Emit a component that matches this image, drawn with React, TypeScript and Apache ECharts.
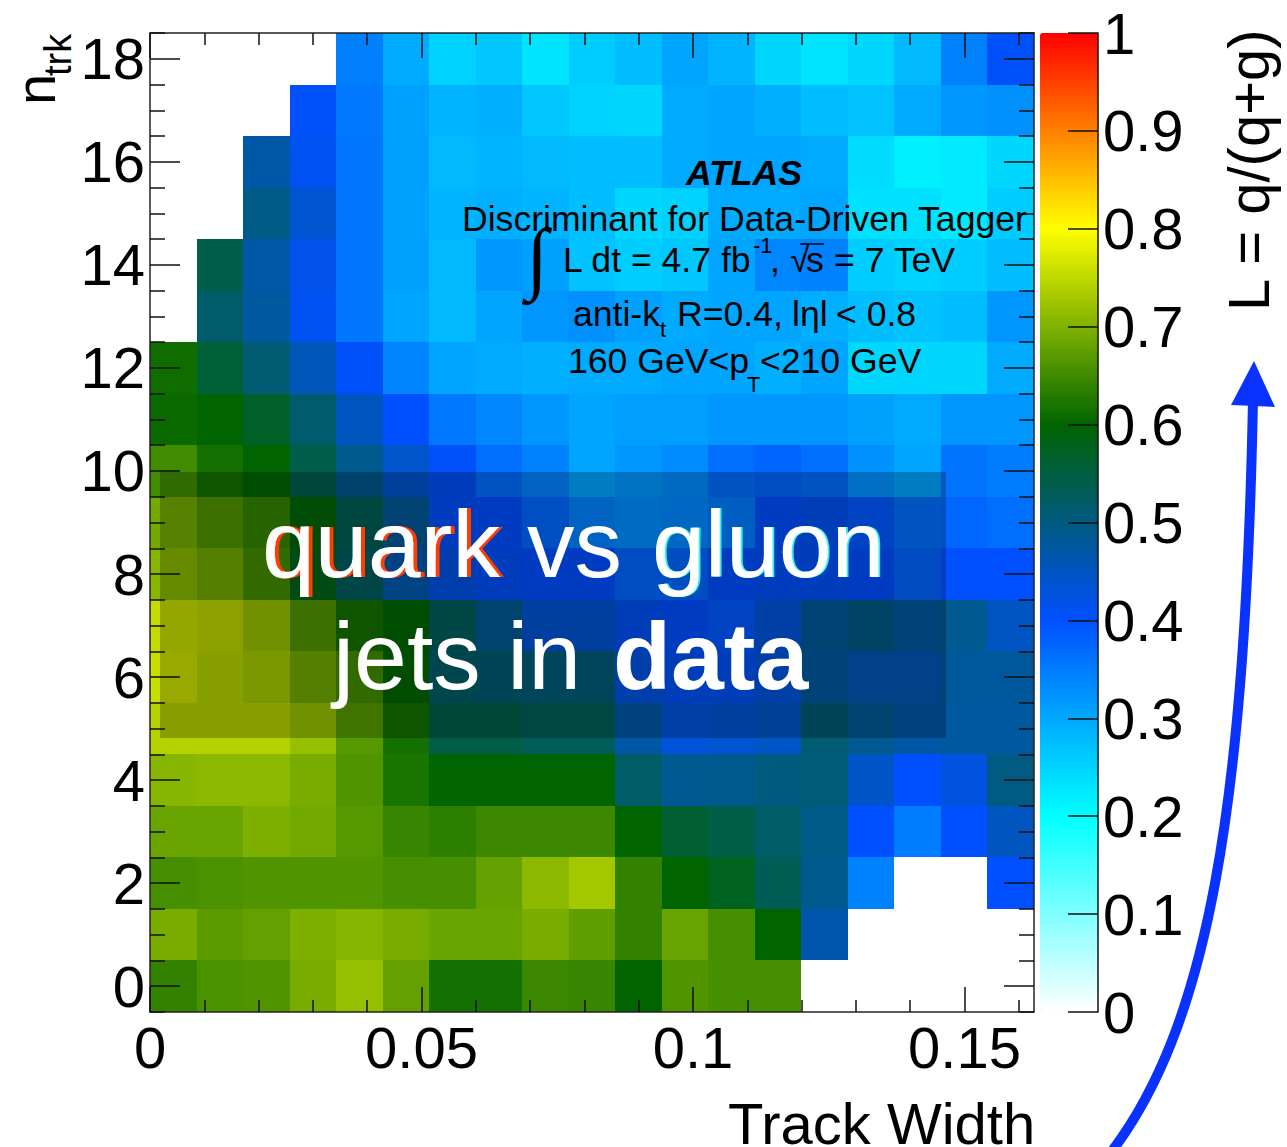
import React, { useEffect, useRef } from "react";
import * as echarts from "echarts";

const N: null = null;
const row00 = [.639,.659,.663,.694,.718,.678,.616,.616,.647,.643,.6,.663,.655,.655,N,N,N,N,N];
const row01 = [.694,.671,.678,.698,.706,.694,.682,.682,.694,.675,.639,.682,.655,.6,.463,N,N,N,N];
const row02 = [.655,.659,.663,.663,.663,.655,.655,.678,.71,.729,.639,.6,.576,.533,.49,.343,N,N,.4];
const row03 = [.682,.682,.698,.69,.667,.643,.635,.647,.647,.647,.6,.56,.545,.52,.494,.4,.349,.4,.451];
const row04 = [.706,.71,.71,.694,.663,.62,.6,.6,.6,.6,.52,.486,.49,.502,.506,.443,.4,.425,.498];
const row05 = [.741,.741,.741,.718,.667,.616,.545,.545,.53,.53,.47,.43,.435,.445,.51,.486,.47,.475,.475];
const row06 = [.757,.74,.729,.688,.652,.6,.518,.512,.507,.507,.424,.41,.41,.43,.476,.46,.46,.478,.478];
const row07 = [.753,.745,.718,.662,.616,.6,.528,.486,.435,.435,.41,.4,.39,.43,.482,.496,.476,.486,.447];
const row08 = [.706,.688,.652,.58,.528,.466,.42,.405,.4,.4,.375,.375,.4,.405,.405,.4,.38,.4,.4];
const row09 = [.69,.662,.641,.595,.533,.482,.404,.4,.371,.343,.33,.335,.35,.4,.41,.39,.365,.375,.366];
const row10 = [.651,.616,.6,.541,.49,.44,.405,.366,.343,.303,.32,.331,.366,.377,.366,.326,.303,.36,.349];
const row11 = [.608,.6,.569,.514,.451,.4,.354,.337,.32,.303,.31,.31,.32,.32,.32,.309,.297,.32,.32];
const row12 = [.612,.557,.51,.455,.404,.34,.303,.297,.291,.297,.297,.303,.303,.291,.303,.246,.246,.246,.297];
const row13 = [N,.518,.475,.41,.357,.303,.28,.303,.32,.326,.309,.297,.303,.303,.291,.274,.269,.274,.32];
const row14 = [N,.541,.47,.416,.357,.309,.28,.32,.309,.269,.257,.263,.303,.337,.343,.257,.251,.257,.274];
const row15 = [N,N,.495,.435,.357,.309,.286,.291,.286,.274,.246,.251,.297,.297,.303,.234,.234,.223,.257];
const row16 = [N,N,.47,.41,.357,.309,.28,.286,.28,.274,.274,.297,.303,.303,.297,.24,.217,.223,.246];
const row17 = [N,N,N,.405,.354,.309,.286,.291,.263,.251,.246,.297,.303,.291,.274,.269,.297,.32,.326];
const row18 = [N,N,N,N,.345,.297,.251,.263,.231,.257,.274,.303,.286,.246,.231,.246,.28,.343,.405];
const rows = [row00,row01,row02,row03,row04,row05,row06,row07,row08,row09,row10,row11,row12,row13,row14,row15,row16,row17,row18];

const xMax = 0.1628;
const xBins = 19;
const xMajor = [0, 0.05, 0.1, 0.15];
const xMinor = [.01,.02,.03,.04,.06,.07,.08,.09,.11,.12,.13,.14,.16];
const yMajor = [0,2,4,6,8,10,12,14,16,18];
const yMinor = [.5,1,1.5,2.5,3,3.5,4.5,5,5.5,6.5,7,7.5,8.5,9,9.5,10.5,11,11.5,12.5,13,13.5,14.5,15,15.5,16.5,17,17.5,18.5,-.5];
const paletteStops = ["#ffffff","#00ffff","#0050ff","#006400","#ffff00","#ff0000"];

const FONT = '"Liberation Sans", Helvetica, Arial, sans-serif';
const INK = "#000";
const TICK_FONT = 58;
const NOTE_FONT = 35.6;

function App() {
  const ref = useRef<HTMLDivElement>(null);
  useEffect(() => {
    const chart = echarts.init(ref.current!, undefined, { renderer: "svg" });
    const cells: number[][] = [];
    rows.forEach((r, ri) => r.forEach((v, ci) => { if (v !== null) cells.push([ci, ri, v as number]); }));
    const bw = xMax / xBins;
    const lbl = (t: string, x: number, base: number, size: number, extra: any = {}) => ({
      type: "text", x, y: base - size * 0.35, z: 30,
      style: { text: t, fill: INK, fontFamily: FONT, fontSize: size, textAlign: "left", textVerticalAlign: "middle", verticalAlign: "middle", ...extra },
    });
    const rot = (t: string, x: number, y: number, size: number, align: string) => ({
      type: "text", x: x - size * 0.35, y, rotation: Math.PI / 2, z: 30,
      style: { text: t, fill: INK, fontFamily: FONT, fontSize: size, textAlign: align, verticalAlign: "middle", textVerticalAlign: "middle" },
    });
    const big = (t: string, x: number, base: number, weight: string, shadow?: string, dx = 4) => ({
      type: "text", x, y: base - 95 * 0.35, z: 40,
      style: {
        text: t, fill: "#fff", fontFamily: FONT, fontSize: 95, fontWeight: weight, textAlign: "left", verticalAlign: "middle", textVerticalAlign: "middle",
        ...(shadow ? { textShadowColor: shadow, textShadowOffsetX: dx, textShadowOffsetY: 0, textShadowBlur: 0.1 } : {}),
      },
    });
    const hiddenX = (gridIndex: number, min = 0, max = 1) => ({ type: "value", gridIndex, min, max, show: false });
    const xTicks = (gridIndex: number, position: string, values: number[], length: number, labels: boolean, line: boolean) => ({
      type: "value", gridIndex, position, min: 0, max: xMax, z: 5,
      splitLine: { show: false },
      axisLine: { show: line, onZero: false, lineStyle: { color: "#222", width: 1.5 } },
      axisTick: { show: true, inside: true, length, customValues: values, lineStyle: { color: "#111", width: 1.5 } },
      axisLabel: { show: labels, customValues: labels ? values : undefined, margin: 6, fontFamily: FONT, fontSize: TICK_FONT, color: INK, formatter: (v: number) => String(v), hideOverlap: false, showMinLabel: true, showMaxLabel: true },
    });
    const yTicks = (gridIndex: number, position: string, values: number[], length: number, labels: boolean, line: boolean) => ({
      type: "value", gridIndex, position, min: -0.5, max: 18.5, z: 5,
      splitLine: { show: false },
      axisLine: { show: line, onZero: false, lineStyle: { color: "#222", width: 1.5 } },
      axisTick: { show: true, inside: true, length, customValues: values, lineStyle: { color: "#111", width: 1.5 } },
      axisLabel: { show: labels, customValues: labels ? values : undefined, margin: 5, padding: [4, 0, 0, 0], fontFamily: FONT, fontSize: TICK_FONT, color: INK, hideOverlap: false },
    });
    const mainRect = { left: 150, top: 33, width: 884, height: 979 };
    chart.setOption({
      animation: false,
      backgroundColor: "#fff",
      grid: [mainRect, mainRect, { left: 1040, top: 33, width: 58, height: 979 }],
      xAxis: [
        xTicks(0, "bottom", xMajor, 25, true, true),
        xTicks(0, "top", xMajor, 25, false, true),
        xTicks(1, "bottom", xMinor, 12, false, false),
        xTicks(1, "top", xMinor, 12, false, false),
        hiddenX(2),
      ],
      yAxis: [
        yTicks(0, "left", yMajor, 30, true, true),
        yTicks(0, "right", yMajor, 30, false, true),
        yTicks(1, "left", yMinor, 15, false, false),
        yTicks(1, "right", yMinor, 15, false, false),
        {
          type: "value", gridIndex: 2, position: "right", min: 0, max: 1, interval: 0.1, z: 6,
          splitLine: { show: false },
          axisLine: { show: true, onZero: false, lineStyle: { color: "#111", width: 1.5 } },
          axisTick: { show: true, inside: true, length: 30, lineStyle: { color: "#111", width: 1.5 } },
          axisLabel: { margin: 5, padding: [4, 0, 0, 0], fontFamily: FONT, fontSize: TICK_FONT, color: INK, formatter: (v: number) => (v === 0 || v === 1 ? String(v) : v.toFixed(1)), showMinLabel: true, showMaxLabel: true },
        },
      ],
      visualMap: {
        type: "continuous", seriesIndex: 0, dimension: 2, min: 0, max: 1, calculable: false, realtime: false,
        left: 1040, top: 33, itemWidth: 58, itemHeight: 979, padding: 0, text: undefined, showLabel: false, hoverLink: false,
        inRange: { color: paletteStops },
      },
      series: [{
        type: "custom", coordinateSystem: "cartesian2d", xAxisIndex: 0, yAxisIndex: 0, silent: true,
        data: cells,
        encode: { x: 0, y: 1 },
        renderItem: (_: any, api: any) => {
          const c = api.value(0), r = api.value(1);
          const a = api.coord([c * bw, r + 0.5]);
          const b = api.coord([(c + 1) * bw, r - 0.5]);
          const x0 = Math.round(a[0]), y0 = Math.round(a[1]), x1 = Math.round(b[0]), y1 = Math.round(b[1]);
          return { type: "rect", shape: { x: x0, y: y0, width: x1 - x0, height: y1 - y0 }, style: { fill: api.visual("color") } };
        },
      }],
      graphic: [
        { type: "rect", z: 10, shape: { x: 160, y: 472, width: 786, height: 266 }, style: { fill: "rgba(0,0,0,0.24)" } },
        lbl("ATLAS", 686, 185, NOTE_FONT, { fontWeight: "bold", fontStyle: "italic" }),
        lbl("Discriminant for Data-Driven Tagger", 462, 231, NOTE_FONT),
        lbl("∫", 526, 285, 80, { fontFamily: '"Liberation Serif", serif', fontWeight: "bold" }),
        lbl("L dt = 4.7 fb", 563, 272, NOTE_FONT),
        lbl("-1", 753, 253, 22),
        lbl(",", 770, 272, NOTE_FONT),
        lbl("√", 790, 272, NOTE_FONT),
        lbl("s", 806, 272, NOTE_FONT),
        { type: "line", z: 30, shape: { x1: 800, y1: 244, x2: 824, y2: 244 }, style: { stroke: INK, lineWidth: 1.5 } },
        lbl("= 7 TeV", 834, 272, NOTE_FONT),
        lbl("anti-k", 573, 326, NOTE_FONT),
        lbl("t", 660, 337, 22),
        lbl("R=0.4,", 677, 326, NOTE_FONT),
        lbl("lηl", 792, 326, NOTE_FONT),
        lbl("< 0.8", 836, 326, NOTE_FONT),
        lbl("160 GeV<p", 568, 373, NOTE_FONT),
        lbl("T", 747, 392, 22),
        lbl("<210 GeV", 760, 373, NOTE_FONT),
        big("quark", 262, 577, "normal", "#ff3c00", 4),
        big("vs", 527, 577, "normal"),
        big("gluon", 652, 577, "normal", "#30f0f0", 2),
        big("jets in", 333, 689, "normal"),
        big("data", 613, 689, "bold"),
        lbl("Track Width", 728, 1144, 58),
        rot("n", 55, 105, 56, "left"),
        rot("trk", 71, 76, 38, "left"),
        rot("L = q/(q+g)", 1269, 311, 58, "left"),
        {
          type: "bezierCurve", z: 20,
          shape: { x1: 1105, y1: 1160, cpx1: 1210, cpy1: 1030, cpx2: 1245, cpy2: 800, x2: 1253, y2: 400 },
          style: { stroke: "#0a32ff", lineWidth: 10, fill: "none" },
        },
        { type: "polygon", z: 20, shape: { points: [[1254, 361], [1231, 405], [1275, 407]] }, style: { fill: "#0a32ff" } },
      ],
    });
    return () => chart.dispose();
  }, []);
  return <div ref={ref} style={{ position: "absolute", left: 0, top: 0, width: 1287, height: 1147 }} />;
}

export default App;
